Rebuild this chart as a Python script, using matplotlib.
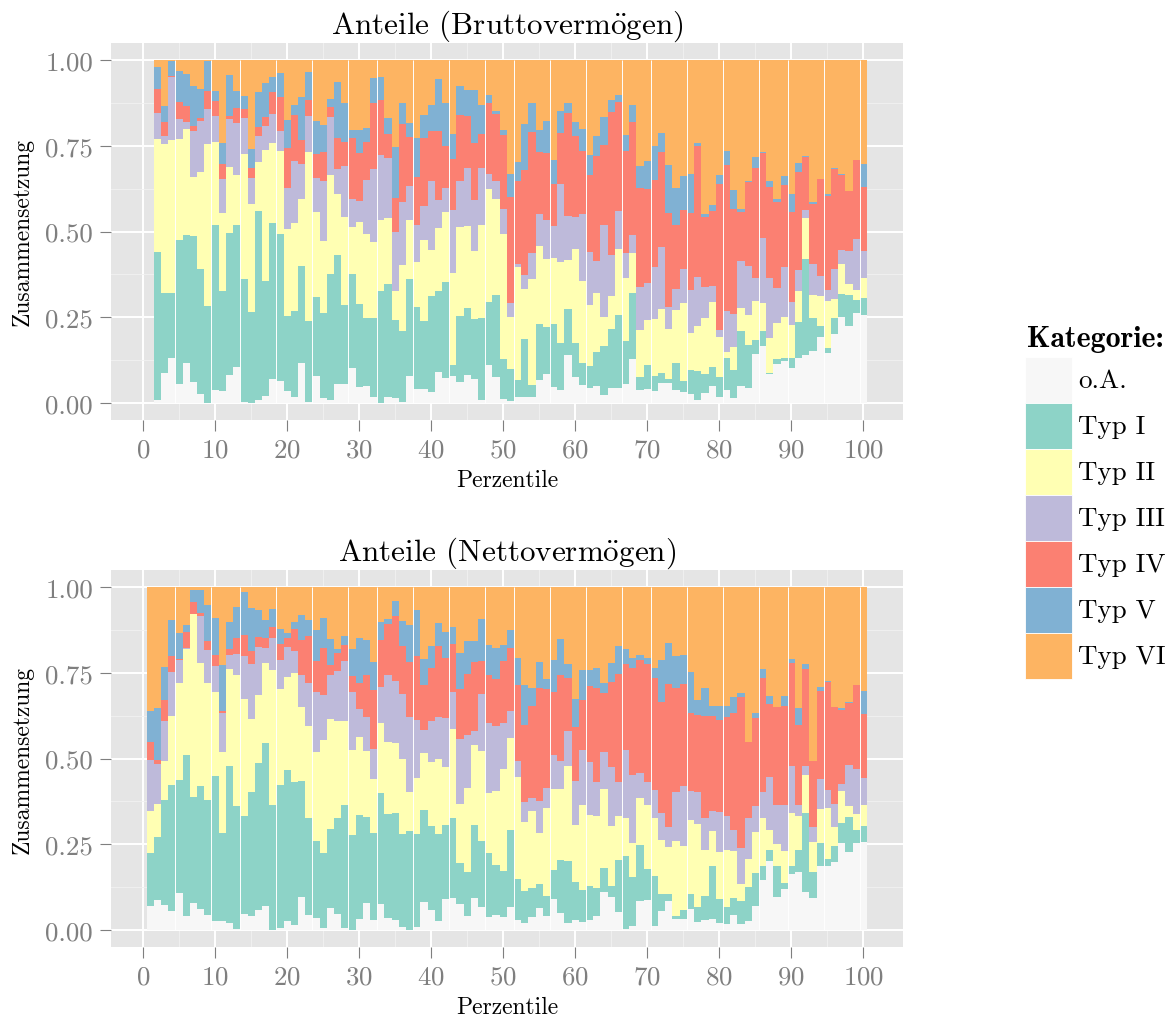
import numpy as np
import matplotlib
matplotlib.use("Agg")
import matplotlib.pyplot as plt
from matplotlib.patches import Rectangle

plt.rcParams['font.family'] = ['cmr10', 'DejaVu Serif']
plt.rcParams['mathtext.fontset'] = 'cm'
plt.rcParams['axes.formatter.use_mathtext'] = True

categories = ["o.A.", "Typ I", "Typ II", "Typ III", "Typ IV", "Typ V", "Typ VI"]
colors = ["#F7F7F7", "#8DD3C7", "#FFFFB3", "#BEBADA", "#FB8072", "#80B1D3", "#FDB462"]

# percentiles of the two panels
brutto_x = np.arange(2, 101)
netto_x = np.arange(1, 101)

# cumulative upper edge of each category per percentile (Typ VI always reaches 1)
brutto_oa = [.007, .088, .13, .056, .117, .061, .026, 0, .038, .035,
             .082, .105, .003, 0, .009, .02, .07, .064, .035, .018,
             .117, .003, .079, .015, .009, .055, .056, .102, .047, .05,
             .018, 0, .018, .015, .003, .079, .041, .041, .032, .091,
             .073, .079, .061, .082, .07, .009, .111, .076, .012, .006,
             .018, .018, .018, .067, .085, .047, .038, .14, .076, .053,
             .044, .05, .023, .044, .044, .056, .129, .038, .041, .035,
             .058, .058, .038, .032, .026, .009, .03, .05, .018, .038,
             .015, .05, .044, .143, .167, .085, .114, .123, .102, .132,
             .14, .152, .193, .146, .202, .251, .225, .263, .257]
brutto_typ1 = [.44, .32, .32, .474, .491, .488, .392, .284, .52, .327,
               .497, .518, .36, .266, .561, .357, .526, .494, .254, .269,
               .398, .24, .31, .263, .377, .43, .287, .377, .289, .249,
               .249, .325, .348, .243, .21, .36, .281, .24, .313, .327,
               .354, .111, .254, .278, .246, .249, .295, .316, .129, .099,
               .067, .187, .053, .231, .222, .231, .175, .275, .175, .117,
               .108, .149, .167, .216, .257, .181, .322, .076, .111, .079,
               .088, .07, .117, .064, .096, .094, .085, .105, .076, .132,
               .096, .211, .17, .184, .211, .088, .129, .132, .132, .237,
               .421, .249, .225, .161, .249, .319, .316, .301, .307]
brutto_typ2 = [.769, .754, .766, .769, .798, .658, .675, .754, .76, .553,
               .687, .664, .725, .579, .702, .737, .757, .734, .506, .526,
               .596, .731, .556, .471, .664, .608, .541, .512, .529, .494,
               .468, .535, .538, .327, .403, .535, .412, .474, .447, .509,
               .556, .38, .512, .515, .442, .518, .623, .596, .494, .251,
               .395, .333, .36, .459, .421, .424, .412, .418, .45, .357,
               .287, .322, .251, .313, .45, .365, .436, .213, .243, .246,
               .275, .216, .272, .292, .205, .225, .249, .295, .193, .149,
               .164, .278, .257, .298, .292, .19, .234, .251, .228, .325,
               .538, .316, .313, .298, .304, .404, .348, .33, .365]
brutto_typ3 = [.845, .78, .95, .827, .819, .792, .822, .857, .836, .652,
               .827, .816, .83, .655, .778, .807, .842, .792, .626, .705,
               .696, .836, .655, .646, .833, .681, .69, .596, .588, .649,
               .681, .722, .713, .5, .585, .632, .52, .573, .646, .591,
               .626, .564, .646, .684, .591, .684, .667, .646, .567, .292,
               .406, .374, .436, .55, .535, .515, .64, .544, .541, .55,
               .439, .415, .52, .43, .561, .436, .491, .339, .351, .395,
               .456, .281, .333, .392, .33, .368, .339, .342, .213, .269,
               .26, .415, .398, .363, .48, .363, .336, .395, .295, .389,
               .564, .406, .371, .33, .392, .446, .442, .477, .442]
brutto_typ4 = [.915, .82, .953, .877, .865, .807, .83, .909, .88, .696,
               .836, .86, .857, .684, .804, .833, .906, .892, .743, .839,
               .766, .883, .725, .731, .863, .772, .76, .772, .728, .76,
               .874, .883, .784, .599, .813, .775, .658, .772, .792, .792,
               .749, .711, .839, .836, .757, .784, .874, .842, .781, .602,
               .646, .678, .789, .731, .728, .64, .787, .845, .778, .734,
               .664, .719, .751, .848, .877, .734, .819, .626, .623, .649,
               .731, .553, .518, .564, .553, .749, .541, .561, .64, .693,
               .567, .558, .643, .684, .728, .629, .585, .637, .556, .673,
               .716, .579, .652, .605, .681, .664, .617, .708, .629]
brutto_typ5 = [.98, .865, .997, .968, .959, .924, .915, .998, .909, .757,
               .956, .909, .895, .74, .906, .933, .95, .962, .825, .868,
               .892, .965, .822, .81, .886, .936, .874, .795, .795, .801,
               .947, .95, .83, .746, .874, .816, .772, .839, .868, .944,
               .874, .784, .924, .912, .912, .868, .898, .851, .795, .667,
               .702, .813, .874, .795, .822, .708, .851, .874, .819, .798,
               .722, .778, .833, .883, .898, .781, .868, .69, .705, .749,
               .787, .693, .626, .661, .667, .757, .55, .576, .664, .734,
               .62, .567, .646, .716, .731, .646, .594, .661, .608, .699,
               .719, .585, .652, .608, .684, .667, .617, .708, .696]

netto_oa = [.07, .088, .073, .056, .108, .041, .079, .061, .044, .026,
            .026, .02, .003, .047, .041, .058, .07, 0, .006, .026,
            .015, .096, .044, .035, .006, .064, .047, .006, 0, .032,
            .079, .029, .076, .035, .029, .009, 0, .009, .082, .058,
            .026, .091, .094, .076, .041, .094, .067, .038, .044, .038,
            .067, .029, .02, .038, .064, .041, .091, .05, .02, .029,
            .023, .029, .041, .111, .096, .053, .003, .012, .085, .088,
            .012, .056, .085, .032, .032, .061, .023, .029, .032, .02,
            .018, .044, .018, .026, .07, .146, .202, .096, .12, .164,
            .17, .111, .094, .187, .187, .199, .254, .228, .254, .257]
netto_typ1 = [.225, .272, .38, .424, .436, .509, .389, .421, .38, .45,
              .284, .477, .36, .333, .401, .488, .544, .363, .424, .465,
              .43, .433, .327, .26, .225, .295, .325, .365, .278, .336,
              .33, .284, .398, .339, .342, .281, .289, .281, .351, .304,
              .281, .307, .327, .196, .17, .307, .26, .225, .19, .173,
              .292, .149, .114, .123, .134, .099, .175, .205, .202, .14,
              .117, .129, .123, .181, .129, .205, .216, .155, .249, .178,
              .158, .105, .105, .041, .058, .105, .067, .099, .187, .091,
              .067, .094, .085, .126, .167, .187, .234, .187, .137, .187,
              .234, .342, .17, .254, .207, .246, .313, .33, .292, .304]
netto_typ2 = [.348, .368, .494, .623, .719, .819, .921, .778, .719, .693,
              .518, .76, .743, .673, .614, .684, .778, .757, .702, .737,
              .749, .649, .596, .518, .553, .614, .608, .608, .526, .564,
              .523, .439, .605, .547, .544, .5, .401, .442, .515, .491,
              .5, .474, .585, .368, .415, .538, .523, .398, .404, .468,
              .561, .447, .316, .348, .284, .357, .412, .412, .477, .307,
              .365, .336, .333, .412, .304, .333, .325, .254, .386, .363,
              .327, .263, .243, .26, .246, .322, .31, .234, .289, .228,
              .234, .231, .134, .208, .287, .325, .292, .251, .231, .342,
              .333, .453, .257, .354, .357, .301, .406, .36, .339, .365]
netto_typ3 = [.497, .485, .608, .751, .787, .822, .921, .915, .816, .769,
              .632, .801, .804, .798, .775, .825, .822, .851, .787, .825,
              .813, .745, .72, .693, .684, .743, .754, .784, .693, .643,
              .62, .529, .708, .743, .725, .687, .62, .611, .582, .608,
              .62, .617, .693, .556, .57, .579, .687, .605, .596, .605,
              .64, .494, .374, .386, .377, .415, .509, .494, .579, .434,
              .526, .491, .43, .52, .474, .43, .526, .453, .459, .43,
              .409, .342, .301, .401, .421, .404, .401, .325, .348, .345,
              .333, .292, .24, .325, .36, .401, .447, .365, .363, .477,
              .363, .477, .301, .439, .409, .368, .427, .48, .468, .442]
netto_typ4 = [.547, .497, .67, .798, .789, .868, .956, .924, .842, .801,
              .64, .819, .851, .86, .813, .854, .851, .883, .833, .851,
              .877, .845, .857, .784, .822, .772, .807, .83, .74, .72,
              .743, .699, .845, .892, .915, .827, .781, .798, .713, .763,
              .827, .792, .833, .702, .746, .781, .784, .743, .731, .784,
              .822, .713, .599, .652, .705, .702, .693, .743, .734, .591,
              .67, .711, .705, .69, .722, .746, .775, .763, .787, .775,
              .734, .664, .716, .705, .716, .632, .626, .623, .623, .611,
              .62, .632, .678, .547, .619, .734, .658, .649, .652, .778,
              .599, .76, .494, .696, .722, .649, .641, .661, .713, .629]
netto_typ5 = [.64, .646, .766, .904, .865, .889, .991, .991, .947, .909,
              .772, .898, .942, .985, .939, .933, .904, .936, .877, .866,
              .898, .918, .904, .874, .909, .848, .819, .857, .819, .851,
              .845, .781, .898, .906, .959, .901, .889, .933, .789, .827,
              .895, .868, .883, .807, .842, .842, .906, .83, .822, .83,
              .874, .792, .713, .705, .781, .733, .787, .85, .775, .675,
              .757, .757, .763, .72, .778, .827, .819, .792, .801, .792,
              .763, .787, .836, .798, .801, .751, .671, .705, .652, .652,
              .652, .678, .69, .547, .632, .76, .681, .649, .681, .789,
              .646, .775, .494, .708, .725, .649, .646, .664, .713, .696]

# thin white seams where neighbouring bars do not touch
seams = [4.5, 9.5, 13.5, 18.5, 23.5, 28.5, 32.5, 37.5, 42.5, 47.5, 51.5,
         56.5, 61.5, 66.5, 70.5, 75.5, 80.5, 85.5, 89.5, 94.5, 99.5]

W, H = 1176, 1020
fig = plt.figure(figsize=(W / 100, H / 100), dpi=100)
grey = "#7F7F7F"


def panel(rect, x, tops, title):
	ax = fig.add_axes(rect)
	n = len(x)
	edges = np.vstack([np.zeros(n)] + [np.asarray(t, float) for t in tops] + [np.ones(n)])
	for i, col in enumerate(colors):
		ax.bar(x, edges[i + 1] - edges[i], bottom=edges[i], width=1.0,
		       color=col, linewidth=0, antialiased=False, zorder=2)
	ax.vlines(seams, 0, 1, color="white", lw=0.7, zorder=3)
	ax.set_facecolor("#E5E5E5")
	for s in ax.spines.values():
		s.set_visible(False)
	ax.set_xlim(-4.45, 105.5)
	ax.set_ylim(-0.05, 1.05)
	ax.set_xticks(np.arange(0, 101, 10))
	ax.set_xticks(np.arange(5, 100, 10), minor=True)
	ax.set_yticks([0, 0.25, 0.5, 0.75, 1.0])
	ax.set_yticklabels(["0.00", "0.25", "0.50", "0.75", "1.00"])
	ax.set_yticks([0.125, 0.375, 0.625, 0.875], minor=True)
	ax.grid(which="major", color="white", lw=1.4, zorder=0)
	ax.grid(which="minor", color="#F2F2F2", lw=0.6, zorder=0)
	ax.set_axisbelow(True)
	ax.tick_params(which="major", length=8, width=0.8, color=grey,
	               labelcolor=grey, labelsize=19.4, pad=5)
	ax.tick_params(which="minor", length=0)
	ax.set_title(title, fontsize=22.4, pad=6)
	ax.set_xlabel("Perzentile", fontsize=17, labelpad=5)
	ax.set_ylabel("Zusammensetzung", fontsize=17, labelpad=8)
	return ax


panel([111 / W, 1 - 421 / H, 792 / W, 377 / H], brutto_x,
      [brutto_oa, brutto_typ1, brutto_typ2, brutto_typ3, brutto_typ4, brutto_typ5],
      "Anteile (Bruttoverm$\\ddot{\\rm o}$gen)")
panel([111 / W, 1 - 948 / H, 792 / W, 377 / H], netto_x,
      [netto_oa, netto_typ1, netto_typ2, netto_typ3, netto_typ4, netto_typ5],
      "Anteile (Nettoverm$\\ddot{\\rm o}$gen)")

# legend
fig.text(1027 / W, 1 - 340 / H, "Kategorie:", family=["cmb10", "DejaVu Serif"],
         fontsize=21.5, ha="left", va="center")
for i, (lab, col) in enumerate(zip(categories, colors)):
	top = 357.7 + 46 * i
	fig.add_artist(Rectangle((1025 / W, 1 - (top + 46) / H), 47 / W, 46 / H,
	                         transform=fig.transFigure, facecolor=col,
	                         edgecolor="white", lw=0.6))
	fig.text(1078 / W, 1 - (top + 23) / H, lab, fontsize=19.4, ha="left", va="center")

fig.savefig("out.png", dpi=100, facecolor="white")
